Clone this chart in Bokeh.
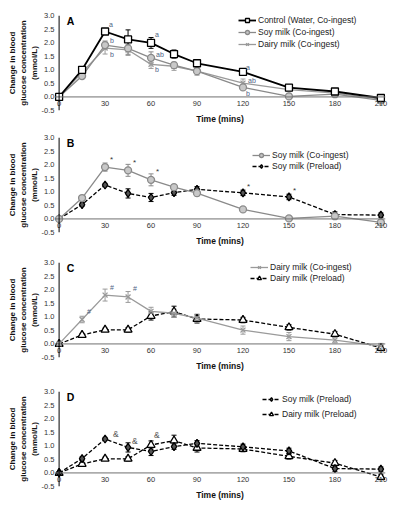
import numpy as np
from bokeh.plotting import figure
from bokeh.models import (ColumnDataSource, Whisker, TeeHead, Legend, LegendItem,
                          FixedTicker, Range1d, Label, NumeralTickFormatter, Span)
from bokeh.layouts import column
from bokeh.embed import file_html
from bokeh.resources import INLINE

# ---------------- data ----------------
time = [0, 15, 30, 45, 60, 75, 90, 120, 150, 180, 210]
x_ticks = [0, 30, 60, 90, 120, 150, 180, 210]
y_ticks = [-0.5, 0.0, 0.5, 1.0, 1.5, 2.0, 2.5, 3.0]

control_mean = [0, 1.00, 2.41, 2.12, 1.99, 1.58, 1.24, 0.92, 0.34, 0.20, -0.04]
control_sem = [0, 0.10, 0.10, 0.35, 0.20, 0.15, 0.10, 0.10, 0.10, 0.06, 0.10]
soy_co_mean = [0, 0.77, 1.91, 1.79, 1.44, 1.17, 0.95, 0.35, 0.02, 0.10, -0.13]
soy_co_sem = [0, 0.08, 0.15, 0.22, 0.22, 0.10, 0.10, 0.08, 0.05, 0.05, 0.06]
dairy_co_mean = [0, 0.90, 1.80, 1.73, 1.20, 1.13, 0.95, 0.51, 0.27, 0.14, -0.08]
dairy_co_sem = [0, 0.12, 0.22, 0.20, 0.15, 0.15, 0.15, 0.15, 0.15, 0.10, 0.10]
soy_pre_mean = [0, 0.53, 1.25, 0.94, 0.79, 0.97, 1.09, 0.96, 0.81, 0.16, 0.14]
soy_pre_sem = [0, 0.06, 0.06, 0.17, 0.15, 0.10, 0.10, 0.10, 0.10, 0.10, 0.08]
dairy_pre_mean = [0, 0.33, 0.52, 0.52, 1.03, 1.19, 0.92, 0.88, 0.61, 0.36, -0.15]
dairy_pre_sem = [0, 0.06, 0.06, 0.08, 0.15, 0.20, 0.15, 0.10, 0.10, 0.10, 0.10]

series_names = {
    "control": "Control (Water, Co-ingest)",
    "soy_co": "Soy milk (Co-ingest)",
    "dairy_co": "Dairy milk (Co-ingest)",
    "soy_pre": "Soy milk (Preload)",
    "dairy_pre": "Dairy milk (Preload)",
}
series_data = {
    "control": (control_mean, control_sem),
    "soy_co": (soy_co_mean, soy_co_sem),
    "dairy_co": (dairy_co_mean, dairy_co_sem),
    "soy_pre": (soy_pre_mean, soy_pre_sem),
    "dairy_pre": (dairy_pre_mean, dairy_pre_sem),
}

panel_letters = ["A", "B", "C", "D"]
panel_series = [
    ["control", "soy_co", "dairy_co"],
    ["soy_co", "soy_pre"],
    ["dairy_co", "dairy_pre"],
    ["soy_pre", "dairy_pre"],
]

# significance annotations: (series, time, text)
ann_A = [("control", 30, "a"), ("soy_co", 30, "b"), ("dairy_co", 30, "b"),
         ("control", 60, "a"), ("soy_co", 60, "ab"), ("dairy_co", 60, "b"),
         ("control", 120, "a"), ("dairy_co", 120, "ab"), ("soy_co", 120, "b")]
ann_B = [("soy_co", 30, "*"), ("soy_co", 45, "*"), ("soy_co", 60, "*"),
         ("soy_pre", 120, "*"), ("soy_pre", 150, "*")]
ann_C = [("dairy_co", 15, "#"), ("dairy_co", 30, "#"), ("dairy_co", 45, "#")]
ann_D = [("soy_pre", 30, "&"), ("soy_pre", 45, "&"), ("dairy_pre", 60, "&")]
panel_ann = [ann_A, ann_B, ann_C, ann_D]

# ---------------- style ----------------
FONT = "Liberation Sans"
styles = {
    "control": dict(color="black", marker="square", fill="white", dash="solid", size=7, lw=1.8),
    "soy_co": dict(color="#8a8a8a", marker="circle", fill="#c8c8c8", dash="solid", size=7, lw=1.3),
    "dairy_co": dict(color="#9a9a9a", marker="x", fill="#9a9a9a", dash="solid", size=7, lw=1.3),
    "soy_pre": dict(color="black", marker="diamond", fill="#555555", dash="4 2", size=8, lw=1.3),
    "dairy_pre": dict(color="black", marker="triangle", fill="white", dash="4 2", size=8, lw=1.3),
}
ann_offsets = [
    [(4, -7), (5, -5), (5, 6), (4, -8), (5, -3), (4, 5), (3, -4), (5, -3), (3, 6)],
    [(5, -8), (5, -8), (5, -8), (4, -6), (4, -6)],
    [(5, -8), (5, -8), (5, -8)],
    [(8, -5), (4, -6), (3, -10)],
]
ann_colors = ["#4d6384", "#333333", "#4d6384", "#555555"]
ann_sizes = ["7px", "8px", "7px", "8.5px"]
legend_locs = [(184, 61), (198, 61), (196, 74), (208, 67)]
legend_spacing = [2, 1, 1, 5]
border_tops = [15, 11, 14, 18]

figs = []
for i, letter in enumerate(panel_letters):
    p = figure(frame_width=331, frame_height=95,
               x_range=Range1d(-3, 213), y_range=Range1d(-0.5, 3.0),
               output_backend="svg", toolbar_location=None,
               min_border_left=54, min_border_right=4,
               min_border_top=border_tops[i], min_border_bottom=0)
    p.outline_line_color = None
    p.xgrid.grid_line_color = None
    p.ygrid.grid_line_color = None
    p.background_fill_color = "white"

    p.xaxis.ticker = FixedTicker(ticks=x_ticks)
    p.yaxis.ticker = FixedTicker(ticks=y_ticks)
    p.yaxis.formatter = NumeralTickFormatter(format="0.0")
    for ax in (p.xaxis, p.yaxis):
        ax.minor_tick_line_color = None
        ax.major_tick_line_color = None
        ax.axis_line_color = None
        ax.major_tick_in = 0
        ax.major_tick_out = 0
        ax.major_label_text_font = FONT
        ax.major_label_text_font_size = "7.5px"
        ax.major_label_text_color = "#333333"
        ax.axis_label_text_font = FONT
        ax.axis_label_text_font_style = "bold"
        ax.axis_label_text_color = "#111111"
    p.xaxis.axis_label = "Time (mins)"
    p.xaxis.axis_label_text_font_size = "8.5px"
    p.xaxis.axis_label_standoff = 5
    p.xaxis.major_label_standoff = -10
    p.yaxis.axis_label = "Change in blood\nglucose concentration\n(mmol/L)"
    p.yaxis.axis_label_text_font_size = "8px"
    p.yaxis.axis_label_standoff = 0
    p.yaxis.major_label_standoff = 0

    # axis lines through the origin
    p.add_layout(Span(location=0, dimension="width", line_color="#707070", line_width=1))
    p.add_layout(Span(location=0, dimension="height", line_color="black", line_width=1))

    items = []
    keys = panel_series[i]
    rend = {}
    for key in reversed(keys):
        m, s = series_data[key]
        st = styles[key]
        src = ColumnDataSource(dict(t=time, m=m,
                                    lo=list(np.array(m) - np.array(s)),
                                    hi=list(np.array(m) + np.array(s))))
        w = Whisker(source=src, base="t", upper="hi", lower="lo",
                    line_color=st["color"], line_width=1,
                    upper_head=TeeHead(size=5, line_color=st["color"], line_width=1),
                    lower_head=TeeHead(size=5, line_color=st["color"], line_width=1))
        p.add_layout(w)
        lr = p.line("t", "m", source=src, line_color=st["color"], line_width=st["lw"],
                    line_dash=st["dash"])
        sr = p.scatter("t", "m", source=src, marker=st["marker"], size=st["size"],
                       line_color=st["color"], fill_color=st["fill"], line_width=1.3)
        rend[key] = [lr, sr]
    for key in keys:
        items.append(LegendItem(label=series_names[key], renderers=rend[key]))
    leg = Legend(items=items, location=legend_locs[i], border_line_alpha=0,
                 background_fill_alpha=0, padding=0, margin=0,
                 spacing=legend_spacing[i], glyph_width=18, glyph_height=10,
                 label_height=10, label_standoff=2,
                 label_text_font=FONT, label_text_font_size="8.5px",
                 label_text_color="#222222")
    p.add_layout(leg)

    anns = panel_ann[i]
    for (key, t, txt), (dx, dy) in zip(anns, ann_offsets[i]):
        m = series_data[key][0][time.index(t)]
        p.add_layout(Label(x=t, y=m, text=txt, x_offset=dx, y_offset=-dy,
                           text_font=FONT, text_font_size=ann_sizes[i],
                           text_color=ann_colors[i], text_align="left",
                           text_baseline="middle"))

    p.add_layout(Label(x=5, y=2.78, text=letter, text_font=FONT,
                       text_font_size="10.5px", text_font_style="bold",
                       text_align="left", text_baseline="middle",
                       text_color="black"))
    figs.append(p)

layout = column(*figs, spacing=0)
open("out.html", "w").write(file_html(layout, INLINE))
